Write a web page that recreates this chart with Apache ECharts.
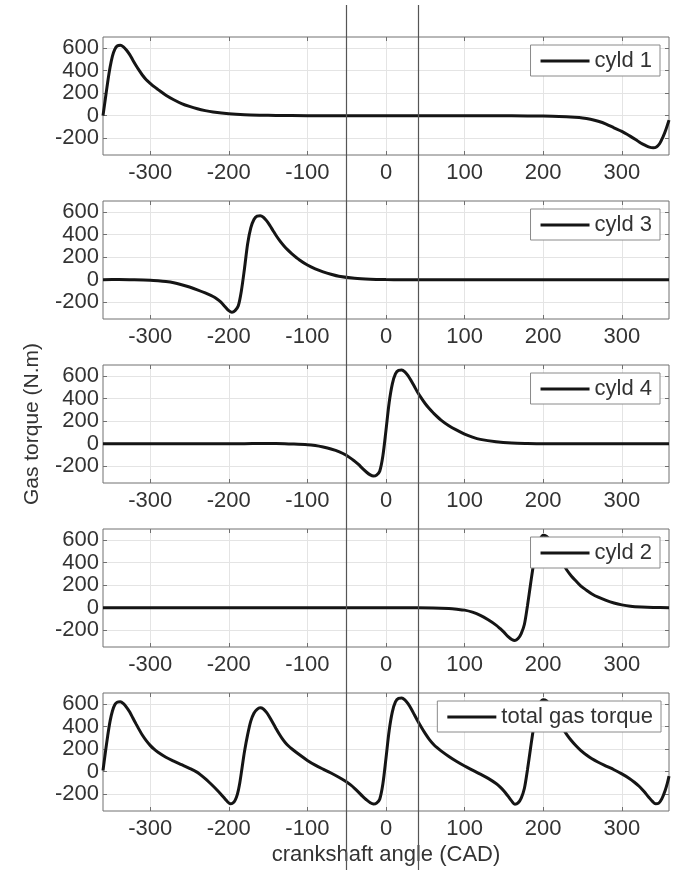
<!DOCTYPE html>
<html>
<head>
<meta charset="utf-8">
<script src="https://cdn.jsdelivr.net/npm/echarts@6/dist/echarts.min.js"></script>
<style>
  html, body { margin: 0; padding: 0; background: #fff; }
  #chart { width: 673px; height: 870px; }
</style>
</head>
<body>
<div id="chart"></div>
<script>
'use strict'

// tick labels
const xTicks = [-300, -200, -100, 0, 100, 200, 300];
const yTicks = [-200, 0, 200, 400, 600];

// cylinder 1 (TDC at -360 / 360)
const cyl1Angle = [-360, -357, -354, -351, -348, -345, -342, -338, -334, -330, -326, -322, -318, -314, -310, -305, -300, -295, -290, -280, -270, -260, -250, -240, -230, -220, -200, -180, -160, -140, -100, 0, 100, 160, 200, 220, 240, 250, 260, 270, 280, 290, 300, 310, 318, 324, 330, 335, 340, 344, 348, 352, 356, 360];
const cyl1Torque = [0, 150, 300, 430, 530, 590, 620, 627, 612, 582, 543, 494, 447, 403, 362, 320, 288, 258, 232, 182, 142, 108, 82, 61, 45, 33, 17, 8, 4, 2, 0, 0, 0, -1, -4, -7, -14, -20, -32, -50, -75, -108, -140, -180, -215, -243, -265, -280, -285, -278, -250, -195, -125, -40];

// cylinder 3 (TDC at -180)
const cyl3Angle = [-360, -340, -320, -300, -290, -280, -270, -260, -250, -240, -230, -220, -215, -210, -205, -200, -196, -192, -188, -184, -180, -176, -172, -168, -164, -160, -156, -152, -148, -144, -140, -135, -130, -125, -120, -110, -100, -90, -80, -70, -60, -40, -20, 0, 20, 100, 200, 360];
const cyl3Torque = [0, 1, -1, -5, -10, -17, -28, -45, -65, -90, -118, -150, -172, -200, -238, -275, -290, -275, -235, -100, 100, 320, 460, 535, 565, 568, 555, 525, 485, 440, 395, 345, 302, 265, 232, 175, 130, 96, 70, 48, 30, 12, 4, 1, 0, 0, 0, 0];

// cylinder 4 (TDC at 0)
const cyl4Angle = [-360, -300, -240, -200, -180, -160, -140, -120, -100, -90, -80, -70, -60, -50, -40, -35, -30, -25, -20, -16, -12, -8, -4, 0, 4, 8, 12, 16, 20, 24, 28, 32, 36, 40, 45, 50, 55, 60, 70, 80, 90, 100, 110, 120, 140, 160, 180, 200, 260, 360];
const cyl4Torque = [0, 0, 0, 0, 0, 1, 1, -3, -9, -17, -30, -47, -70, -105, -155, -185, -220, -252, -278, -288, -280, -245, -110, 120, 364, 530, 620, 652, 655, 638, 605, 560, 510, 460, 405, 355, 312, 275, 210, 160, 120, 85, 58, 38, 17, 6, 2, 0, 0, 0];

// cylinder 2 (TDC at 180)
const cyl2Angle = [-360, 0, 40, 60, 80, 90, 100, 110, 120, 130, 140, 145, 150, 155, 160, 164, 168, 172, 176, 180, 184, 188, 192, 196, 200, 204, 208, 212, 216, 220, 225, 230, 236, 242, 248, 255, 262, 270, 280, 290, 300, 311, 325, 340, 360];
const cyl2Torque = [0, 0, 0, -2, -8, -14, -22, -40, -68, -108, -155, -185, -218, -255, -283, -292, -275, -230, -150, 20, 215, 400, 530, 610, 645, 635, 605, 560, 510, 460, 395, 335, 280, 235, 192, 155, 122, 93, 65, 42, 25, 13, 6, 2, 0];

// total gas torque
const totalAngle = [-360, -357, -354, -351, -348, -345, -342, -338, -334, -330, -326, -322, -318, -314, -310, -305, -300, -295, -290, -280, -270, -260, -250, -240, -235, -230, -225, -220, -215, -210, -205, -201, -198, -195, -192, -189, -186, -183, -180, -176, -172, -168, -164, -160, -156, -152, -148, -144, -140, -136, -132, -128, -124, -120, -110, -100, -90, -80, -70, -60, -50, -45, -40, -35, -30, -25, -20, -16, -12, -8, -4, 0, 4, 8, 12, 16, 20, 24, 28, 32, 36, 40, 45, 50, 55, 60, 65, 70, 80, 90, 100, 110, 120, 130, 140, 145, 150, 155, 160, 164, 168, 172, 176, 180, 184, 188, 192, 196, 200, 204, 208, 212, 216, 220, 225, 230, 236, 242, 248, 255, 262, 270, 280, 290, 300, 310, 316, 322, 328, 334, 339, 343, 347, 351, 355, 358, 360];
const totalTorque = [10, 170, 320, 450, 540, 595, 618, 622, 605, 572, 530, 478, 425, 374, 326, 276, 234, 200, 172, 128, 94, 62, 30, -6, -33, -62, -94, -128, -163, -200, -240, -272, -285, -280, -255, -200, -100, 40, 180, 330, 450, 520, 555, 568, 558, 528, 485, 435, 385, 337, 294, 258, 228, 204, 150, 100, 58, 22, -12, -50, -92, -118, -148, -182, -218, -250, -277, -288, -280, -245, -110, 120, 364, 530, 620, 652, 655, 638, 605, 560, 508, 455, 395, 338, 288, 247, 213, 185, 135, 90, 50, 14, -22, -60, -106, -136, -172, -216, -262, -290, -278, -235, -150, 20, 215, 400, 530, 610, 640, 632, 600, 555, 500, 445, 385, 330, 275, 228, 187, 148, 115, 84, 50, 17, -20, -62, -94, -130, -175, -225, -265, -286, -280, -240, -170, -100, -40];

const panels = [
  { name: 'cyld 1', angle: cyl1Angle, torque: cyl1Torque },
  { name: 'cyld 3', angle: cyl3Angle, torque: cyl3Torque },
  { name: 'cyld 4', angle: cyl4Angle, torque: cyl4Torque },
  { name: 'cyld 2', angle: cyl2Angle, torque: cyl2Torque },
  { name: 'total gas torque', angle: totalAngle, torque: totalTorque }
];

const font = 'Liberation Sans, Arial, Helvetica, sans-serif';
const panelTops = [37, 201, 365, 529, 693];
const panelHeight = 118;
const legendTops = [45, 209, 373, 537, 701];
const legendRights = [13, 13, 13, 13, 12];

const chart = echarts.init(document.getElementById('chart'));

const grids = [];
const xAxes = [];
const yAxes = [];
const series = [];
const legends = [];

function tickStyle(values) {
  return { show: true, inside: true, length: 4, customValues: values, lineStyle: { color: '#707070' } };
}

panels.forEach(function (p, i) {
  grids.push({
    left: 103, right: 4, top: panelTops[i], height: panelHeight,
    show: true, borderColor: '#707070', borderWidth: 1, backgroundColor: '#fff'
  });
  // bottom axis with labels
  xAxes.push({
    type: 'value', gridIndex: i, min: -360, max: 360, position: 'bottom',
    axisLine: { show: false, onZero: false },
    axisTick: tickStyle(xTicks),
    axisLabel: { customValues: xTicks, fontFamily: font, fontSize: 22, color: '#333', margin: 7 },
    splitLine: { show: true, lineStyle: { color: '#e4e4e4', width: 1 } },
    name: i === 4 ? 'crankshaft angle (CAD)' : '',
    nameLocation: 'middle', nameGap: 33,
    nameTextStyle: { fontFamily: font, fontSize: 22, color: '#333' }
  });
  // top axis, ticks only
  xAxes.push({
    type: 'value', gridIndex: i, min: -360, max: 360, position: 'top',
    axisLine: { show: false, onZero: false },
    axisTick: tickStyle(xTicks),
    axisLabel: { show: false, customValues: xTicks },
    splitLine: { show: false }
  });
  yAxes.push({
    type: 'value', gridIndex: i, min: -350, max: 700, position: 'left',
    axisLine: { show: false, onZero: false },
    axisTick: tickStyle(yTicks),
    axisLabel: { customValues: yTicks, fontFamily: font, fontSize: 22, color: '#333', margin: 4 },
    splitLine: { show: true, lineStyle: { color: '#e4e4e4', width: 1 } },
    name: i === 2 ? 'Gas torque (N.m)' : '',
    nameLocation: 'middle', nameGap: 60,
    nameTextStyle: { fontFamily: font, fontSize: 21, color: '#333' }
  });
  yAxes.push({
    type: 'value', gridIndex: i, min: -350, max: 700, position: 'right',
    axisLine: { show: false, onZero: false },
    axisTick: tickStyle(yTicks),
    axisLabel: { show: false, customValues: yTicks },
    splitLine: { show: false }
  });
  series.push({
    name: p.name,
    type: 'line',
    xAxisIndex: i * 2,
    yAxisIndex: i * 2,
    data: p.angle.map(function (a, k) { return [a, p.torque[k]]; }),
    showSymbol: false,
    symbol: 'none',
    smooth: 0.3,
    lineStyle: { color: '#151515', width: 3 },
    itemStyle: { color: '#151515' },
    silent: true,
    animation: false
  });
  legends.push({
    data: [{ name: p.name, icon: 'rect' }],
    right: legendRights[i],
    top: legendTops[i],
    itemWidth: 49,
    itemHeight: 3,
    itemGap: 4,
    padding: [5, 8, 4, 10],
    backgroundColor: '#fff',
    borderColor: '#8a8a8a',
    borderWidth: 1,
    borderRadius: 0,
    selectedMode: false,
    textStyle: { fontFamily: font, fontSize: 22, color: '#333' }
  });
});

const option = {
  animation: false,
  backgroundColor: '#fff',
  grid: grids,
  xAxis: xAxes,
  yAxis: yAxes,
  legend: legends,
  series: series,
  graphic: [
    { type: 'line', z: 100, shape: { x1: 346.5, y1: 5, x2: 346.5, y2: 870 }, style: { stroke: '#555', lineWidth: 1.2 } },
    { type: 'line', z: 100, shape: { x1: 418.5, y1: 5, x2: 418.5, y2: 870 }, style: { stroke: '#555', lineWidth: 1.2 } }
  ]
};

chart.setOption(option);
</script>
</body>
</html>
